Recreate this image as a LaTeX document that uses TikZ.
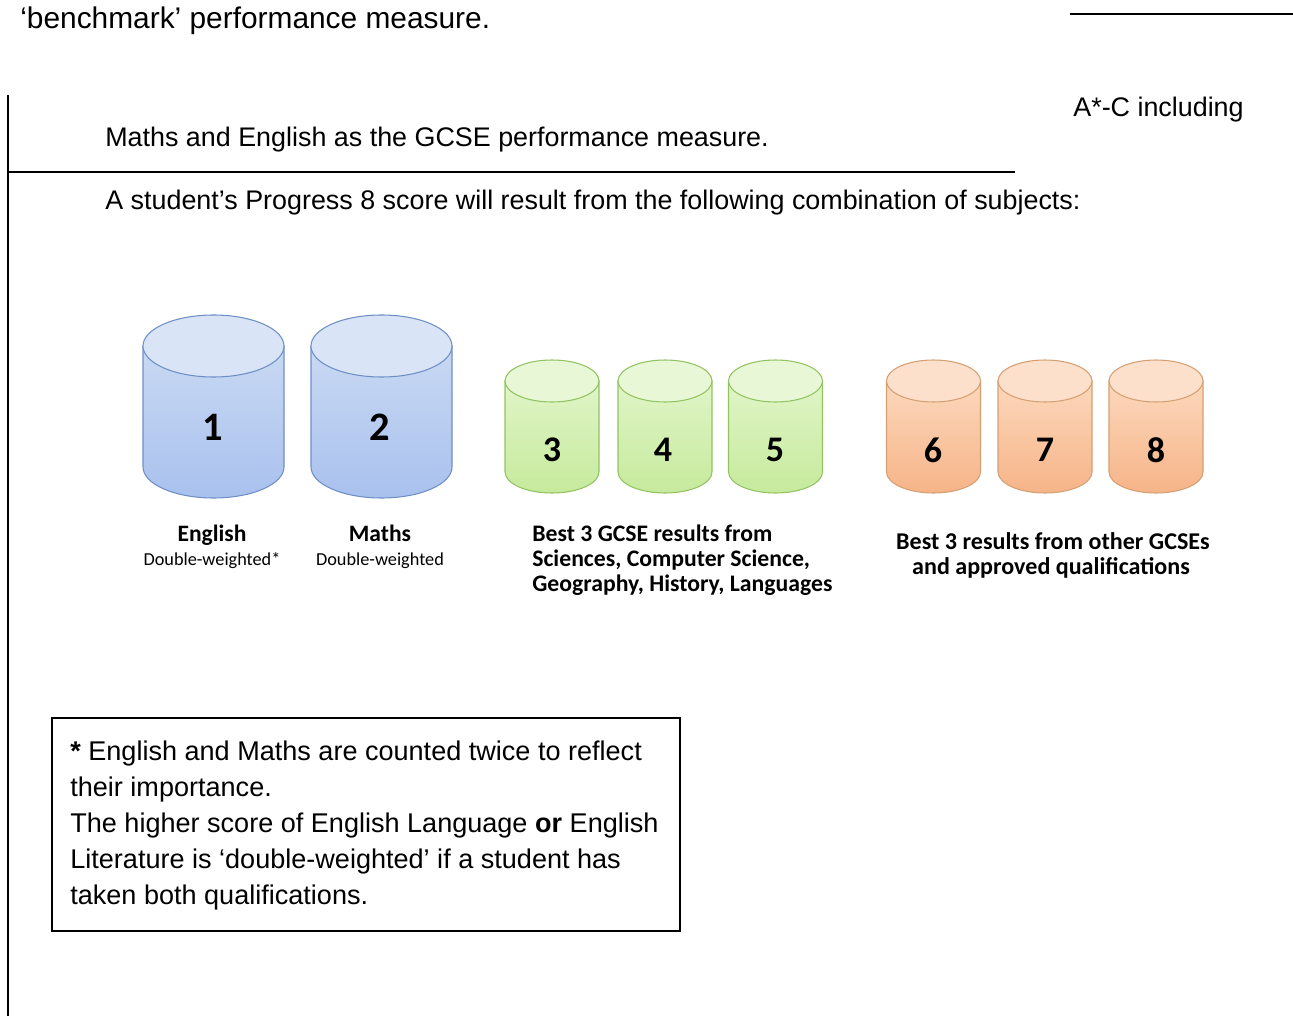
\documentclass[tikz,border=0pt]{standalone}
\usepackage{fontspec}
\setmainfont{Liberation Sans}
\newfontfamily\calfont{Carlito}

\definecolor{bluelid}{HTML}{D9E4F6}
\definecolor{bluetop}{HTML}{C9D9F3}
\definecolor{bluebot}{HTML}{A9C1EE}
\definecolor{blueline}{HTML}{6E8FC6}
\definecolor{greenlid}{HTML}{E8F8D6}
\definecolor{greentop}{HTML}{E0F5C8}
\definecolor{greenbot}{HTML}{C6EA9C}
\definecolor{greenline}{HTML}{93C261}
\definecolor{orangelid}{HTML}{FDE0CB}
\definecolor{orangetop}{HTML}{FCD8BC}
\definecolor{orangebot}{HTML}{F6B488}
\definecolor{orangeline}{HTML}{D59F72}

% one drum: centre x, lid y, base y, x radius, y radius, colour prefix
\newcommand{\drum}[6]{%
  \path[draw=#6line, line width=0.6pt, top color=#6top, bottom color=#6bot]
    (#1-#4,#2) -- (#1-#4,#3) arc (180:360:#4 and #5) -- (#1+#4,#2) -- cycle;
  \path[draw=#6line, line width=0.6pt, fill=#6lid]
    (#1,#2) ellipse [x radius=#4, y radius=#5];
}

\tikzset{
  doc/.style={anchor=base west, inner sep=0pt, font=\fontsize{15.3}{18}\selectfont},
  boxtext/.style={anchor=base west, inner sep=0pt, font=\fontsize{15.4}{18}\selectfont},
  rule/.style={line width=1.1pt},
  bignum/.style={inner sep=0pt, font=\calfont\bfseries\fontsize{23}{25}\selectfont},
  smallnum/.style={inner sep=0pt, font=\calfont\bfseries\fontsize{20.5}{22}\selectfont},
  subject/.style={anchor=base, inner sep=0pt, font=\calfont\bfseries\fontsize{13.4}{15}\selectfont},
  weight/.style={anchor=base, inner sep=0pt, font=\calfont\fontsize{10.4}{12}\selectfont},
  best/.style={inner sep=0pt, font=\calfont\bfseries\fontsize{13.5}{15}\selectfont}
}

\begin{document}
\begin{tikzpicture}[x=0.02cm, y=0.02cm]
  \useasboundingbox (0,0) rectangle (1293,-1016);

  % page text and rules
  \node[doc, font=\fontsize{17}{19}\selectfont] (bench) at (20,-29) {‘benchmark’ performance measure.};
  \coordinate (rtop1) at (1070,-14);
  \coordinate (rtop2) at (1293,-14);
  \draw[rule] (rtop1) -- (rtop2);
  \node[doc] (incl) at (1073,-117) {A*-C including};
  \node[doc] (gcse) at (105,-147) {Maths and English as the GCSE performance measure.};
  \coordinate (vtop) at (8,-95);
  \coordinate (vbot) at (8,-1016);
  \draw[rule] (vtop) -- (vbot);
  \coordinate (hl) at (8,-172);
  \coordinate (hr) at (1015,-172);
  \draw[rule] (hl) -- (hr);
  \node[doc] (intro) at (105,-210) {A student’s Progress 8 score will result from the following combination of subjects:};

  % drums
  \drum{213.5}{-346}{-467}{70.5}{31}{blue}
  \drum{381.5}{-346}{-467}{70.5}{31}{blue}
  \drum{552}{-381}{-472}{47}{21}{green}
  \drum{665}{-381}{-472}{47}{21}{green}
  \drum{775.5}{-381}{-472}{47}{21}{green}
  \drum{933.5}{-381}{-472}{47}{21}{orange}
  \drum{1045}{-381}{-472}{47}{21}{orange}
  \drum{1156}{-381}{-472}{47}{21}{orange}

  \node[bignum] (n1) at (213,-427) {1};
  \node[bignum] (n2) at (380,-427) {2};
  \node[smallnum] (n3) at (552,-450) {3};
  \node[smallnum] (n4) at (663,-450) {4};
  \node[smallnum] (n5) at (775,-450) {5};
  \node[smallnum] (n6) at (933,-450) {6};
  \node[smallnum] (n7) at (1045,-450) {7};
  \node[smallnum] (n8) at (1156,-450) {8};

  % labels under the drums
  \node[subject] (eng) at (212,-541) {English};
  \node[weight] (engw) at (212,-565) {Double-weighted*};
  \node[subject] (mat) at (380,-541) {Maths};
  \node[weight] (matw) at (380,-565) {Double-weighted};
  \node[best, anchor=base west] (sci1) at (532,-541) {Best 3 GCSE results from};
  \node[best, anchor=base west] (sci2) at (532,-566) {Sciences, Computer Science,};
  \node[best, anchor=base west] (sci3) at (532,-591) {Geography, History, Languages};
  \node[best, anchor=base, font=\calfont\bfseries\fontsize{13.7}{15}\selectfont] (oth1) at (1053,-549) {Best 3 results from other GCSEs};
  \node[best, anchor=base, font=\calfont\bfseries\fontsize{13.7}{15}\selectfont] (oth2) at (1051,-574) {and approved qualifications};

  % footnote box
  \draw[line width=0.8pt] (52,-718) rectangle (680,-931);
  \node[boxtext] (fn1) at (70,-760) {\textbf{*} English and Maths are counted twice to reflect};
  \node[boxtext] (fn2) at (70,-796) {their importance.};
  \node[boxtext] (fn3) at (70,-832) {The higher score of English Language \textbf{or} English};
  \node[boxtext] (fn4) at (70,-868) {Literature is ‘double-weighted’ if a student has};
  \node[boxtext] (fn5) at (70,-904) {taken both qualifications.};
\end{tikzpicture}
\end{document}
